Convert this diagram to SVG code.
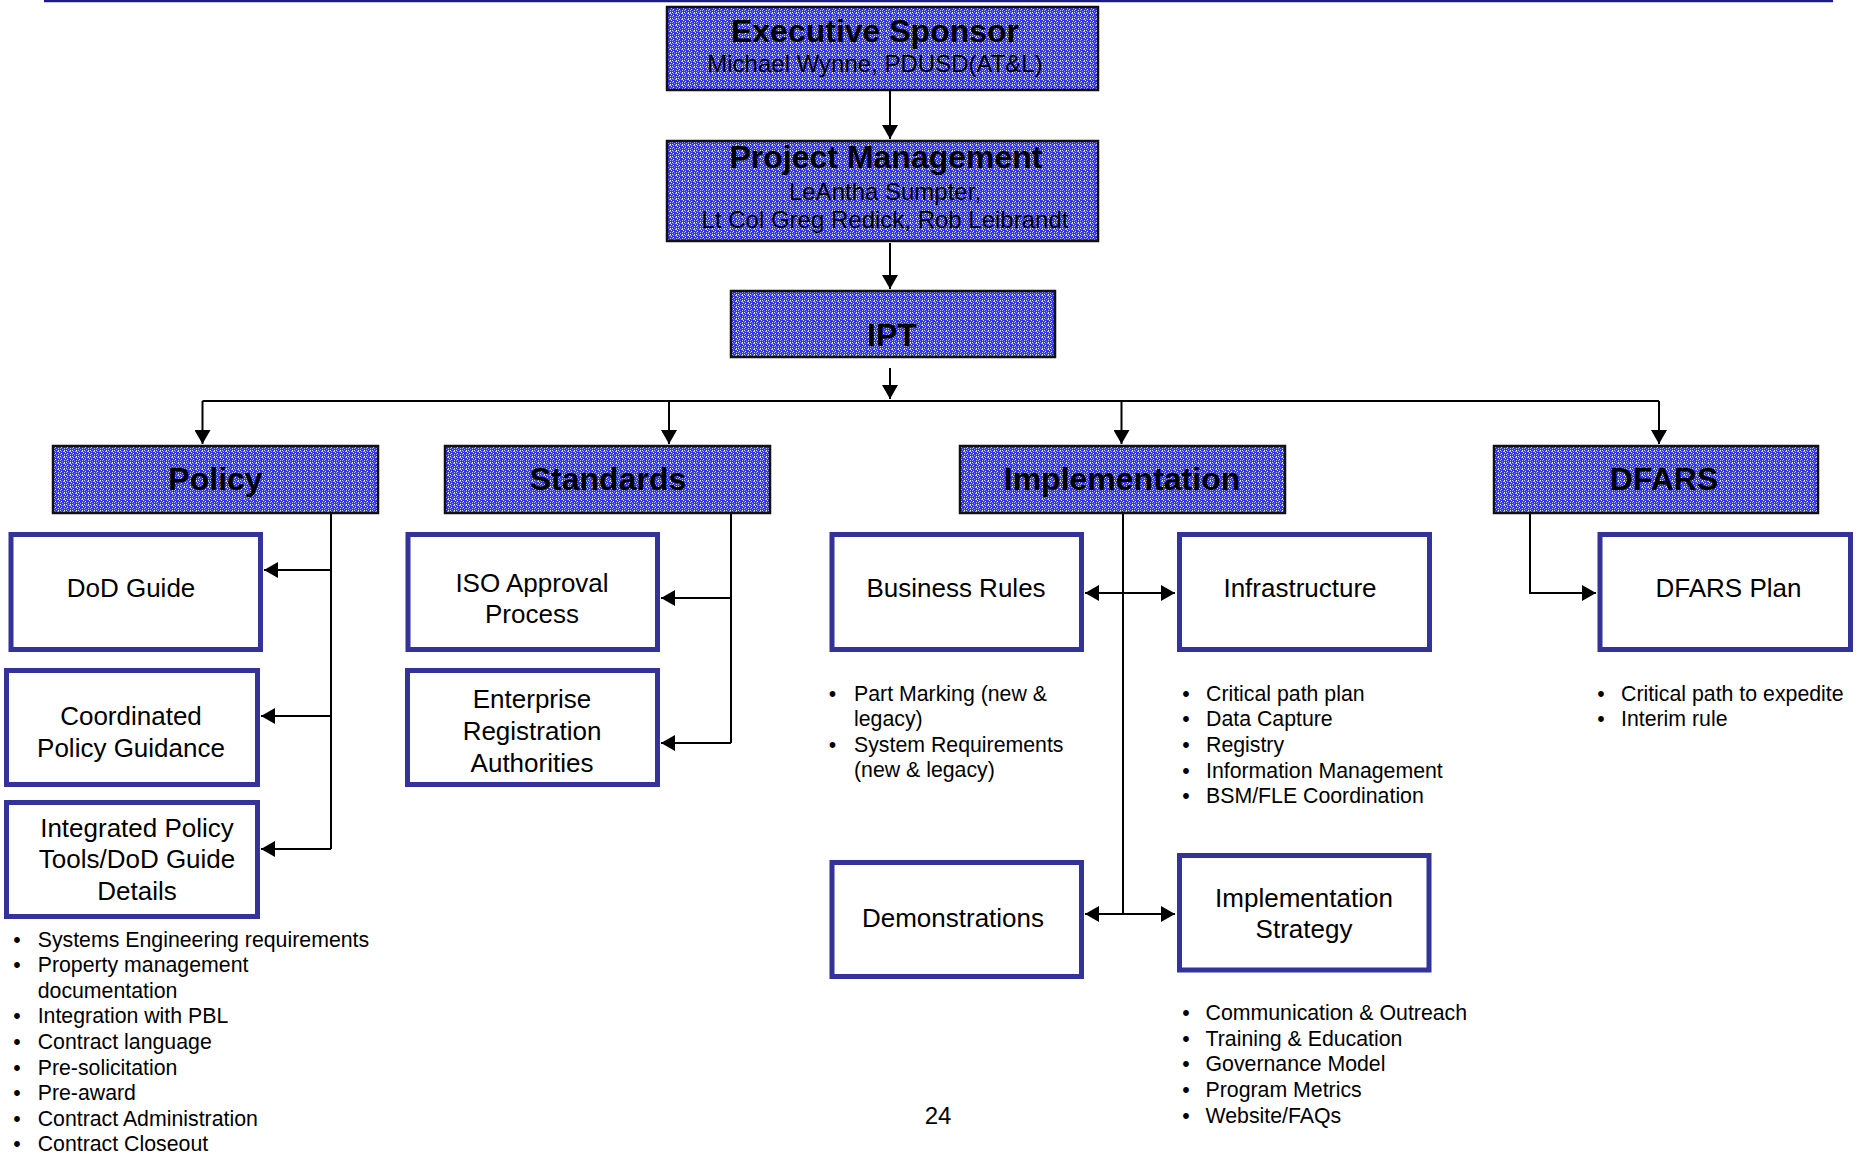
<svg xmlns="http://www.w3.org/2000/svg" width="1857" height="1154" viewBox="0 0 1857 1154">
<style>
.hdr{fill:url(#tex);stroke:#111;stroke-width:2.5}
.box{fill:#fff;stroke:#333399;stroke-width:5}
.t{font-family:"Liberation Sans",Arial,sans-serif;fill:#000}
.hb{font-size:32px;font-weight:bold;text-anchor:middle}
.hs{font-size:24px;text-anchor:middle}
.bx{font-size:26px;text-anchor:middle}
.bl{font-size:21.3px}
.bu{font-size:21.3px;text-anchor:middle}
.c{fill:none;stroke:#000;stroke-width:2}
.ca{fill:none;stroke:#000;stroke-width:2;marker-end:url(#ah)}
</style>
<defs>
<pattern id="tex" width="6" height="6" patternUnits="userSpaceOnUse">
<rect width="6" height="6" fill="#3434f4"/>
<rect x="0" y="0" width="1" height="1" fill="#d8d8ff"/>
<rect x="3" y="1" width="2" height="1" fill="#b8b8ff"/>
<rect x="1" y="3" width="1" height="1" fill="#ffffff"/>
<rect x="4" y="4" width="1" height="1" fill="#c8c8ff"/>
<rect x="2" y="5" width="1" height="1" fill="#a0a0ff"/>
<rect x="5" y="2" width="1" height="1" fill="#eeeeff"/>
<rect x="1" y="1" width="1" height="1" fill="#8888ff"/>
<rect x="4" y="0" width="1" height="1" fill="#ffffff"/>
<rect x="0" y="4" width="1" height="1" fill="#b0b0ff"/>
</pattern>
<marker id="ah" markerUnits="userSpaceOnUse" markerWidth="16" markerHeight="16" refX="14" refY="8" orient="auto">
<path d="M0,0 L14,8 L0,16 z" fill="#000"/>
</marker>
</defs>
<rect width="1857" height="1154" fill="#fff"/>
<line x1="44" y1="1" x2="1833" y2="1" stroke="#1c1c86" stroke-width="2.5"/>

<g id="connectors">
<path class="ca" d="M890,91 V139"/>
<path class="ca" d="M890,243 V289"/>
<path class="ca" d="M890,368 V399"/>
<path class="c" d="M202.5,401 H1659" stroke-width="3"/>
<path class="ca" d="M202.5,401 V444"/>
<path class="ca" d="M669,401 V444"/>
<path class="ca" d="M1121.5,401 V444"/>
<path class="ca" d="M1659,401 V444"/>
<path class="c" d="M331,514 V849"/>
<path class="ca" d="M331,570 H264"/>
<path class="ca" d="M331,716 H261"/>
<path class="ca" d="M331,849 H261"/>
<path class="c" d="M731,514 V743"/>
<path class="ca" d="M731,598 H661"/>
<path class="ca" d="M731,743 H661"/>
<path class="c" d="M1123,514 V914"/>
<path class="ca" d="M1123,593 H1085"/>
<path class="ca" d="M1123,593 H1175"/>
<path class="ca" d="M1123,914 H1085"/>
<path class="ca" d="M1123,914 H1175"/>
<path class="ca" d="M1530,514 V593 H1596"/>
</g>

<g id="exec-sponsor">
<rect class="hdr" x="667" y="7" width="431" height="83"/>
<text class="t hb" x="875" y="42">Executive Sponsor</text>
<text class="t hs" x="875" y="72">Michael Wynne, PDUSD(AT&amp;L)</text>
</g>
<g id="project-management">
<rect class="hdr" x="667" y="141" width="431" height="100"/>
<text class="t hb" x="886" y="168">Project Management</text>
<text class="t hs" x="885" y="200">LeAntha Sumpter,</text>
<text class="t hs" x="885" y="228">Lt Col Greg Redick, Rob Leibrandt</text>
</g>
<g id="ipt">
<rect class="hdr" x="731" y="291" width="324" height="66"/>
<text class="t hb" x="892" y="346">IPT</text>
</g>
<g id="policy">
<rect class="hdr" x="53" y="446" width="325" height="67"/>
<text class="t hb" x="215.5" y="490">Policy</text>
</g>
<g id="standards">
<rect class="hdr" x="445" y="446" width="325" height="67"/>
<text class="t hb" x="608" y="490">Standards</text>
</g>
<g id="implementation">
<rect class="hdr" x="960" y="446" width="325" height="67"/>
<text class="t hb" x="1122" y="490">Implementation</text>
</g>
<g id="dfars">
<rect class="hdr" x="1494" y="446" width="324" height="67"/>
<text class="t hb" x="1664" y="490">DFARS</text>
</g>

<g id="dod-guide">
<rect class="box" x="11" y="534.5" width="249.5" height="115"/>
<text class="t bx" x="131" y="597">DoD Guide</text>
</g>
<g id="coordinated-policy-guidance">
<rect class="box" x="6.5" y="670.5" width="251" height="114"/>
<text class="t bx" x="131" y="725">Coordinated</text>
<text class="t bx" x="131" y="757">Policy Guidance</text>
</g>
<g id="integrated-policy-tools">
<rect class="box" x="6.5" y="802.5" width="251" height="114"/>
<text class="t bx" x="137" y="837">Integrated Policy</text>
<text class="t bx" x="137" y="868">Tools/DoD Guide</text>
<text class="t bx" x="137" y="900">Details</text>
</g>
<g id="policy-bullets">
<text class="t bu" x="17" y="946.5">•</text><text class="t bl" x="37.7" y="946.5">Systems Engineering requirements</text>
<text class="t bu" x="17" y="972.1">•</text><text class="t bl" x="37.7" y="972.1">Property management</text>
<text class="t bl" x="37.7" y="997.7">documentation</text>
<text class="t bu" x="17" y="1023.3">•</text><text class="t bl" x="37.7" y="1023.3">Integration with PBL</text>
<text class="t bu" x="17" y="1048.9">•</text><text class="t bl" x="37.7" y="1048.9">Contract language</text>
<text class="t bu" x="17" y="1074.5">•</text><text class="t bl" x="37.7" y="1074.5">Pre-solicitation</text>
<text class="t bu" x="17" y="1100.1">•</text><text class="t bl" x="37.7" y="1100.1">Pre-award</text>
<text class="t bu" x="17" y="1125.7">•</text><text class="t bl" x="37.7" y="1125.7">Contract Administration</text>
<text class="t bu" x="17" y="1151.3">•</text><text class="t bl" x="37.7" y="1151.3">Contract Closeout</text>
</g>

<g id="iso-approval">
<rect class="box" x="408" y="534.5" width="249.5" height="115"/>
<text class="t bx" x="532" y="592">ISO Approval</text>
<text class="t bx" x="532" y="623">Process</text>
</g>
<g id="enterprise-registration">
<rect class="box" x="407.5" y="670.5" width="250" height="114"/>
<text class="t bx" x="532" y="708">Enterprise</text>
<text class="t bx" x="532" y="740">Registration</text>
<text class="t bx" x="532" y="772">Authorities</text>
</g>

<g id="business-rules">
<rect class="box" x="832" y="534.5" width="249.5" height="115"/>
<text class="t bx" x="956" y="597">Business Rules</text>
</g>
<g id="business-rules-bullets">
<text class="t bu" x="832.5" y="700.7">•</text><text class="t bl" x="854" y="700.7">Part Marking (new &amp;</text>
<text class="t bl" x="854" y="726.2">legacy)</text>
<text class="t bu" x="832.5" y="751.7">•</text><text class="t bl" x="854" y="751.7">System Requirements</text>
<text class="t bl" x="854" y="777.2">(new &amp; legacy)</text>
</g>
<g id="infrastructure">
<rect class="box" x="1179.5" y="534.5" width="250" height="115"/>
<text class="t bx" x="1300" y="597">Infrastructure</text>
</g>
<g id="infrastructure-bullets">
<text class="t bu" x="1186" y="700.7">•</text><text class="t bl" x="1206" y="700.7">Critical path plan</text>
<text class="t bu" x="1186" y="726.3">•</text><text class="t bl" x="1206" y="726.3">Data Capture</text>
<text class="t bu" x="1186" y="751.9">•</text><text class="t bl" x="1206" y="751.9">Registry</text>
<text class="t bu" x="1186" y="777.5">•</text><text class="t bl" x="1206" y="777.5">Information Management</text>
<text class="t bu" x="1186" y="803.1">•</text><text class="t bl" x="1206" y="803.1">BSM/FLE Coordination</text>
</g>
<g id="dfars-plan">
<rect class="box" x="1600" y="534.5" width="250.5" height="115"/>
<text class="t bx" x="1728.5" y="597">DFARS Plan</text>
</g>
<g id="dfars-bullets">
<text class="t bu" x="1601" y="700.7">•</text><text class="t bl" x="1621" y="700.7">Critical path to expedite</text>
<text class="t bu" x="1601" y="726.3">•</text><text class="t bl" x="1621" y="726.3">Interim rule</text>
</g>
<g id="demonstrations">
<rect class="box" x="832" y="862.5" width="249.5" height="114"/>
<text class="t bx" x="953" y="927">Demonstrations</text>
</g>
<g id="implementation-strategy">
<rect class="box" x="1179.5" y="855.5" width="249.5" height="114.5"/>
<text class="t bx" x="1304" y="907">Implementation</text>
<text class="t bx" x="1304" y="938">Strategy</text>
</g>
<g id="implementation-strategy-bullets">
<text class="t bu" x="1186" y="1020">•</text><text class="t bl" x="1205.5" y="1020">Communication &amp; Outreach</text>
<text class="t bu" x="1186" y="1045.7">•</text><text class="t bl" x="1205.5" y="1045.7">Training &amp; Education</text>
<text class="t bu" x="1186" y="1071.4">•</text><text class="t bl" x="1205.5" y="1071.4">Governance Model</text>
<text class="t bu" x="1186" y="1097.1">•</text><text class="t bl" x="1205.5" y="1097.1">Program Metrics</text>
<text class="t bu" x="1186" y="1122.8">•</text><text class="t bl" x="1205.5" y="1122.8">Website/FAQs</text>
</g>
<text class="t" x="938" y="1124" font-size="24" text-anchor="middle">24</text>
</svg>
